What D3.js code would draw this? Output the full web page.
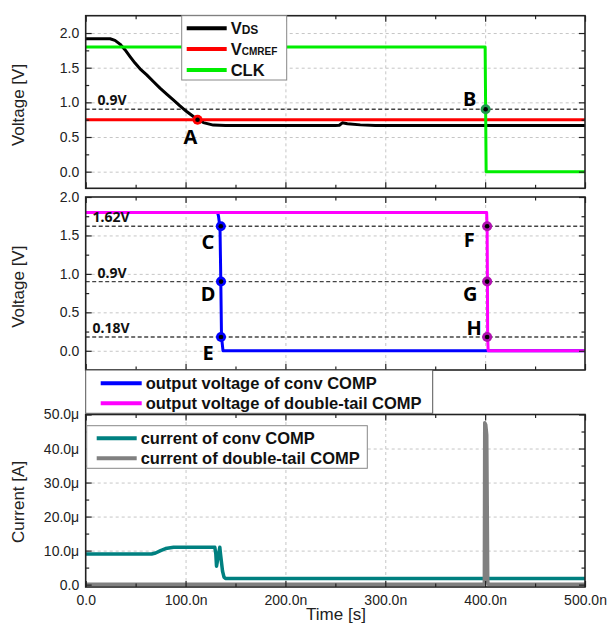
<!DOCTYPE html>
<html>
<head>
<meta charset="utf-8">
<script src="https://cdn.jsdelivr.net/npm/d3@7"></script>
<style>
body { margin: 0; background: #fff; }
svg { display: block; font-family: "Liberation Sans", Arial, sans-serif; }
.grid line { stroke: #b8b8b8; stroke-dasharray: 3,3; stroke-width: 0.8; }
.grid path { display: none; }
.tk path { display: none; }
.tk line { stroke: #222; stroke-width: 1.2; }
.tk text { font-size: 14px; fill: #222; font-family: "Liberation Sans", Arial, sans-serif; }
</style>
</head>
<body>
<svg id="chart" width="607" height="626"></svg>
<script>
// time axis, in ns
var timeMajor = [0, 100, 200, 300, 400, 500]
var timeMinor = [50, 150, 250, 350, 450]
var timeLabels = ['0.0', '100.0n', '200.0n', '300.0n', '400.0n', '500.0n']

// voltage axes
var voltMajor = [0, 0.5, 1.0, 1.5, 2.0]
var voltMinor = [0.25, 0.75, 1.25, 1.75]
var voltLabels = ['0.0', '0.5', '1.0', '1.5', '2.0']

// current axis, in uA
var currMajor = [0, 10, 20, 30, 40, 50]
var currMinor = [5, 15, 25, 35, 45]
var currLabels = ['0.0', '10.0\u03bc', '20.0\u03bc', '30.0\u03bc', '40.0\u03bc', '50.0\u03bc']

// top panel: [time ns, volts]
var vds = [[0,1.918],[24.4,1.918],[29.3,1.894],[34.3,1.84],[39.3,1.76],[44.4,1.66],[49.4,1.566],
  [54.4,1.484],[61.1,1.397],[67.7,1.30],[74.4,1.205],[81.1,1.118],[87.7,1.036],[94.4,0.949],
  [101.1,0.867],[107.8,0.795],[112.2,0.757],[117.8,0.708],[127.8,0.672],[140,0.665],[250,0.665],
  [254,0.67],[257,0.705],[262,0.69],[275,0.675],[290,0.665],[500,0.665]]
var vcmref = [[0,0.75],[500,0.75]]
var clk = [[0,1.8],[400,1.8],[401,0],[500,0]]
var refTop = [0.9]
var markTop = [{name:'A', t:112, v:0.75, s:'vcmref'}, {name:'B', t:400.5, v:0.9, s:'clk'}]

// middle panel: [time ns, volts]
var outConv = [[0,1.8],[132,1.8],[133,1.75],[134.5,1.6],[135.3,0.9],[136,0.18],[137.5,0],[500,0]]
var outDouble = [[0,1.8],[401.5,1.8],[402,1.6],[402.3,0.9],[402.5,0.18],[403,0],[500,0]]
var refMid = [1.62, 0.9, 0.18]
var refMidLabels = ['1.62V', '0.9V', '0.18V']
var markMid = [{name:'C', t:135.3, v:1.62, s:'conv'}, {name:'D', t:135.5, v:0.9, s:'conv'},
  {name:'E', t:135.5, v:0.18, s:'conv'}, {name:'F', t:402, v:1.62, s:'double'},
  {name:'G', t:402, v:0.9, s:'double'}, {name:'H', t:402, v:0.18, s:'double'}]

// bottom panel: [time ns, uA]
var curConv = [[0,9],[66,9],[70,9.3],[75,10],[80,10.6],[88,11],[129.3,11],[130.3,9],[131,5.4],
  [132.5,8],[134.3,11],[135,9],[137,4],[138.5,2.2],[140,1.8],[500,1.8]]
var curDouble = [[0,0.1],[399.2,0.1],[399.6,47.6],[400.6,47],[401.6,44],[402.6,1],[403,0.1],[500,0.1]]

// ---- styles / layout ----
var col = { vds:'#000000', vcmref:'#ff0000', clk:'#00ee00', conv:'#0000ff', double:'#ff00ff',
  cconv:'#008080', cdouble:'#808080' }
var markCol = { vcmref:'#ff0000', clk:'#1f9a4f', conv:'#0000ff', double:'#b010b0' }
var labelOff = { A:[-7,24], B:[-16,-3], C:[-13,23], D:[-13,19], E:[-13,23],
  F:[-18,21], G:[-17,19], H:[-13,-2] }

var left = 85.7, right = 585
var x = d3.scaleLinear().domain([0, 500]).range([left, right])
var svg = d3.select('#chart')

function panel(id, top, bottom, domain, major, minor, labels, showX) {
  var y = d3.scaleLinear().domain(domain).range([bottom, top])
  var g = svg.append('g')
  var inner = major.filter(function(d) { var p = y(d); return p > top + 1 && p < bottom - 1 })

  svg.append('clipPath').attr('id', id).append('rect')
    .attr('x', left).attr('y', top).attr('width', right - left).attr('height', bottom - top)

  g.append('g').attr('class', 'grid').attr('transform', 'translate(0,' + bottom + ')')
    .call(d3.axisBottom(x).tickValues(timeMajor.slice(1, -1)).tickSize(-(bottom - top)).tickFormat(''))
  g.append('g').attr('class', 'grid').attr('transform', 'translate(' + left + ',0)')
    .call(d3.axisLeft(y).tickValues(inner).tickSize(-(right - left)).tickFormat(''))

  var plot = g.append('g').attr('clip-path', 'url(#' + id + ')')

  // ticks, all pointing inwards
  g.append('g').attr('class', 'tk').attr('transform', 'translate(' + left + ',0)')
    .call(d3.axisLeft(y).tickValues(major).tickSize(-6).tickPadding(6.5)
      .tickFormat(function(d, i) { return labels[i] }))
  g.append('g').attr('class', 'tk').attr('transform', 'translate(' + left + ',0)')
    .call(d3.axisLeft(y).tickValues(minor).tickSize(-3.5).tickFormat(''))
  g.append('g').attr('class', 'tk').attr('transform', 'translate(' + right + ',0)')
    .call(d3.axisRight(y).tickValues(major).tickSize(-6).tickFormat(''))
  g.append('g').attr('class', 'tk').attr('transform', 'translate(' + right + ',0)')
    .call(d3.axisRight(y).tickValues(minor).tickSize(-3.5).tickFormat(''))
  g.append('g').attr('class', 'tk').attr('transform', 'translate(0,' + top + ')')
    .call(d3.axisTop(x).tickValues(timeMajor).tickSize(-6).tickFormat(''))
  g.append('g').attr('class', 'tk').attr('transform', 'translate(0,' + top + ')')
    .call(d3.axisTop(x).tickValues(timeMinor).tickSize(-3.5).tickFormat(''))
  g.append('g').attr('class', 'tk').attr('transform', 'translate(0,' + bottom + ')')
    .call(d3.axisBottom(x).tickValues(timeMajor).tickSize(-6).tickPadding(8)
      .tickFormat(function(d, i) { return showX ? timeLabels[i] : '' }))
  g.append('g').attr('class', 'tk').attr('transform', 'translate(0,' + bottom + ')')
    .call(d3.axisBottom(x).tickValues(timeMinor).tickSize(-3.5).tickFormat(''))

  return { g: g, plot: plot, y: y, top: top, bottom: bottom }
}

function frame(p) {
  p.g.append('rect').attr('x', left).attr('y', p.top).attr('width', right - left)
    .attr('height', p.bottom - p.top).attr('fill', 'none').attr('stroke', '#222').attr('stroke-width', 1.6)
}

function curve(p, data, color, w) {
  var line = d3.line().x(function(d) { return x(d[0]) }).y(function(d) { return p.y(d[1]) })
  p.plot.append('path').datum(data).attr('d', line).attr('fill', 'none')
    .attr('stroke', color).attr('stroke-width', w).attr('stroke-linejoin', 'round')
}

function refLines(p, vals, labels) {
  p.plot.selectAll(null).data(vals).join('line')
    .attr('x1', left).attr('x2', right)
    .attr('y1', function(d) { return p.y(d) }).attr('y2', function(d) { return p.y(d) })
    .attr('stroke', '#444').attr('stroke-width', 1.4).attr('stroke-dasharray', '4,2.5')
  p.g.selectAll(null).data(vals).join('text')
    .attr('x', function(d, i) { return labels[i].length > 4 ? 92.5 : 97.5 })
    .attr('y', function(d) { return p.y(d) - 4 })
    .text(function(d, i) { return labels[i] })
    .style('font-family', '"Noto Sans", sans-serif').style('font-weight', 'bold')
    .style('font-size', '14px').attr('fill', '#111')
}

function markers(p, list) {
  var m = p.g.selectAll(null).data(list).join('g')
    .attr('transform', function(d) { return 'translate(' + x(d.t) + ',' + p.y(d.v) + ')' })
  m.append('circle').attr('r', 5).attr('fill', function(d) { return markCol[d.s] })
  m.append('circle').attr('r', 2.3).attr('fill', '#000')
  m.append('text').text(function(d) { return d.name })
    .attr('x', function(d) { return labelOff[d.name][0] })
    .attr('y', function(d) { return labelOff[d.name][1] })
    .attr('text-anchor', 'middle')
    .style('font-family', '"Noto Sans", sans-serif').style('font-weight', 'bold')
    .style('font-size', '20px').attr('fill', '#000')
}

function legend(box, rows, border) {
  var lg = svg.append('g')
  lg.append('rect').attr('x', box.x).attr('y', box.y).attr('width', box.w).attr('height', box.h)
    .attr('fill', '#fff').attr('stroke', border).attr('stroke-width', 1)
  rows.forEach(function(r, i) {
    var yy = box.y0 + i * box.dy
    lg.append('line').attr('x1', box.lx).attr('x2', box.lx + box.lw).attr('y1', yy).attr('y2', yy)
      .attr('stroke', r.color).attr('stroke-width', 4)
    var t = lg.append('text').attr('x', box.lx + box.lw + 4).attr('y', yy + 6)
      .style('font-weight', 'bold').style('font-size', '16.5px').attr('fill', '#111')
    if (r.sub) {
      t.append('tspan').text(r.main)
      t.append('tspan').text(r.sub).style('font-size', r.subSize)
    } else {
      t.text(r.main)
    }
  })
}

// ---- top panel ----
var p1 = panel('c1', 15.7, 188.3, [-0.24, 2.25], voltMajor, voltMinor, voltLabels, false)
refLines(p1, refTop, ['0.9V'])
curve(p1, vds, col.vds, 3)
curve(p1, vcmref, col.vcmref, 3)
curve(p1, clk, col.clk, 3)
legend({x:181.7, y:15.7, w:105, h:64.3, y0:28.3, dy:20.8, lx:186.7, lw:40}, [
  {main:'V', sub:'DS', subSize:'12px', color:col.vds},
  {main:'V', sub:'CMREF', subSize:'10px', color:col.vcmref},
  {main:'CLK', color:col.clk}], '#888')
frame(p1)
markers(p1, markTop)

// ---- middle panel ----
var p2 = panel('c2', 197, 370, [-0.25, 2.0], voltMajor, voltMinor, voltLabels, false)
refLines(p2, refMid, refMidLabels)
curve(p2, outConv, col.conv, 3)
curve(p2, outDouble, col.double, 3)
frame(p2)
markers(p2, markMid)

// ---- bottom panel ----
var p3 = panel('c3', 414.5, 587, [-0.7, 50], currMajor, currMinor, currLabels, true)
curve(p3, curConv, col.cconv, 3.5)
curve(p3, curDouble, col.cdouble, 3.5)
legend({x:86.7, y:425.7, w:280.6, h:42.6, y0:438.3, dy:20, lx:96.7, lw:40}, [
  {main:'current of conv COMP', color:col.cconv},
  {main:'current of double-tail COMP', color:col.cdouble}], '#888')
frame(p3)

// legend for middle panel sits between the panels
legend({x:85.7, y:370, w:347, h:43.3, y0:383.3, dy:20, lx:100.7, lw:41}, [
  {main:'output voltage of conv COMP', color:col.conv},
  {main:'output voltage of double-tail COMP', color:col.double}], '#555')

// axis titles
function title(txt, tx, ty, rot) {
  svg.append('text').text(txt)
    .attr('transform', 'translate(' + tx + ',' + ty + ')' + (rot ? ' rotate(-90)' : ''))
    .attr('text-anchor', 'middle').style('font-size', '17px').attr('fill', '#222')
}
title('Voltage [V]', 24, 105, true)
title('Voltage [V]', 24, 286.7, true)
title('Current [A]', 24, 502, true)
title('Time [s]', 336, 620, false)
</script>
</body>
</html>
